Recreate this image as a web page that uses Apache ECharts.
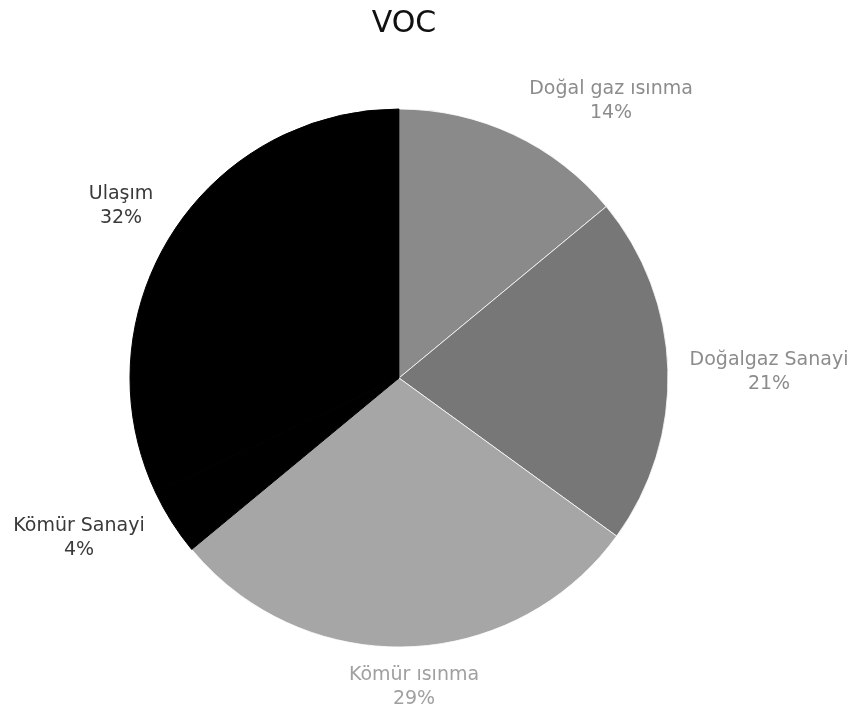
<!DOCTYPE html>
<html>
<head>
<meta charset="utf-8">
<script src="https://cdn.jsdelivr.net/npm/echarts@6/dist/echarts.min.js"></script>
<style>
html,body{margin:0;padding:0;background:#fff;}
#chart{width:850px;height:713px;}
</style>
</head>
<body>
<div id="chart"></div>
<script>
const categories = ['Doğal gaz ısınma', 'Doğalgaz Sanayi', 'Kömür ısınma', 'Kömür Sanayi', 'Ulaşım'];
const values = [14, 21, 29, 4, 32];
const colors = ['#8a8a8a', '#777777', '#a6a6a6', '#000000', '#000000'];
const labelColors = ['#8c8c8c', '#8c8c8c', '#a0a0a0', '#3a3a3a', '#3a3a3a'];
// label block centres (text placement only)
const labelAnchors = [[611, 101], [769, 372], [414, 687], [79, 538], [121, 206]];

const chart = echarts.init(document.getElementById('chart'));
chart.setOption({
  animation: false,
  backgroundColor: '#ffffff',
  title: {
    text: 'VOC',
    left: 399,
    textAlign: 'center',
    top: 4,
    textStyle: { fontFamily: 'DejaVu Sans', fontSize: 30, fontWeight: 'normal', color: '#111' }
  },
  series: [{
    type: 'pie',
    center: [399, 378],
    radius: 269,
    startAngle: 90,
    clockwise: true,
    data: categories.map((c, i) => ({
      name: c,
      value: values[i],
      itemStyle: colors[i] === '#000000'
        ? { color: colors[i], borderColor: '#000000', borderWidth: 1 }
        : { color: colors[i], borderColor: '#ffffff', borderWidth: 0.8 },
      label: { color: labelColors[i] }
    })),
    label: {
      show: true,
      position: 'outside',
      formatter: '{b}\n{d}%',
      fontFamily: 'DejaVu Sans',
      fontSize: 19,
      lineHeight: 24,
      overflow: 'none',
      width: 300
    },
    labelLine: { show: false },
    labelLayout: function (p) {
      const a = labelAnchors[p.dataIndex];
      return { x: a[0], y: a[1], align: 'center', verticalAlign: 'middle' };
    }
  }]
});
</script>
</body>
</html>
